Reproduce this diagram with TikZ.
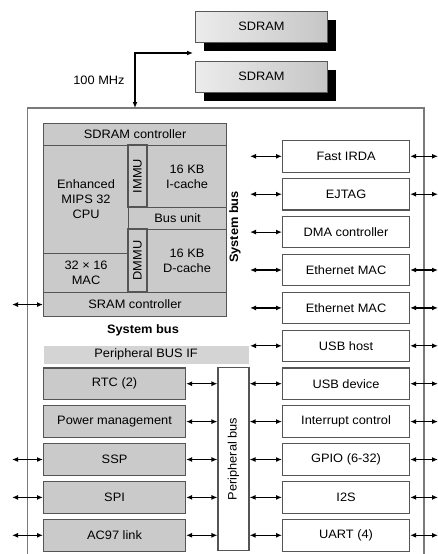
\documentclass[tikz,border=0pt]{standalone}
\usepackage{fontspec}
\setmainfont[FakeStretch=1.05]{Liberation Sans}
\usetikzlibrary{arrows.meta,shadows}
\definecolor{fillg}{HTML}{CACACA}
\definecolor{ifg}{HTML}{D4D4D4}
\definecolor{edgec}{HTML}{555555}
\definecolor{frameg}{HTML}{7A7A7A}
\begin{document}
\begin{tikzpicture}[x=1pt,y=-1pt,
  font=\fontsize{12.2}{15}\selectfont,
  blk/.style={draw=edgec, line width=1.1pt, anchor=north west, inner sep=0pt, align=center},
  gblk/.style={blk, fill=fillg},
  wblk/.style={blk, fill=white, minimum width=127pt, minimum height=31.5pt},
  pblk/.style={gblk, minimum width=142pt, minimum height=31.5pt},
  vblk/.style={draw=edgec, line width=1.1pt, inner sep=0pt, rotate=90, align=center},
  sdr/.style={draw=gray!70!black, line width=1pt, anchor=north west, minimum width=132pt, minimum height=30.5pt,
     left color=gray!15, right color=gray!45,
     drop shadow={shadow xshift=8.5pt, shadow yshift=-8.5pt, fill=black, opacity=1}},
  link/.style={{Latex[length=6pt,width=5pt]}-{Latex[length=6pt,width=5pt]}, line width=1.2pt, black},
]
\useasboundingbox (0,0) rectangle (438,554);
\clip (0,0) rectangle (438,554);

% SDRAM chips
\node[sdr] (sd1) at (195,11) {SDRAM};
\node[sdr] (sd2) at (195,61) {SDRAM};
\node (mhz) at (99,80) {100 MHz};

% outer frame
\draw[frameg, line width=1.2pt] (27.5,570) -- (27.5,108) -- (424,108) -- (424,570);
\coordinate (outtop) at (135,108);
\coordinate (sdrtip) at (193,53);
\draw[link] (outtop) |- (sdrtip);

% CPU block
\node[gblk, minimum width=183pt, minimum height=22pt] (sdc) at (43,123) {SDRAM controller};
\node[gblk, minimum width=85pt, minimum height=108pt] (cpu) at (43,145) {Enhanced\\MIPS 32\\CPU};
\node[gblk, minimum width=85pt, minimum height=39pt] (mac) at (43,253) {32 × 16\\MAC};
\node[vblk, fill=fillg, minimum width=62pt, minimum height=19pt] (immu) at (137.5,176) {IMMU};
\node[gblk, minimum width=79pt, minimum height=62pt] (ic) at (147,145) {16 KB\\I-cache};
\node[gblk, minimum width=98pt, minimum height=22pt] (bu) at (128,207) {Bus unit};
\node[vblk, fill=fillg, minimum width=63pt, minimum height=19pt] (dmmu) at (137.5,260.5) {DMMU};
\node[gblk, minimum width=79pt, minimum height=63pt] (dc) at (147,229) {16 KB\\D-cache};
\node[gblk, minimum width=183pt, minimum height=24pt] (src) at (43,292) {SRAM controller};

\node[font=\fontsize{12.2}{15}\selectfont\bfseries] (sbh) at (143,330) {System bus};
\node[rotate=90, font=\fontsize{12.2}{15}\selectfont\bfseries] (sbv) at (235,227) {System bus};

\node[blk, draw=none, fill=ifg, minimum width=205pt, minimum height=18pt] (pif) at (43,345) {Peripheral BUS IF};

% right column
\node[wblk] (irda) at (282,140) {Fast IRDA};
\node[wblk] (ejtag) at (282,177.9) {EJTAG};
\node[wblk] (dma) at (282,215.8) {DMA controller};
\node[wblk] (eth1) at (282,253.7) {Ethernet MAC};
\node[wblk] (eth2) at (282,291.6) {Ethernet MAC};
\node[wblk] (usbh) at (282,329.5) {USB host};
\node[wblk] (usbd) at (282,367.4) {USB device};
\node[wblk] (intc) at (282,405.3) {Interrupt control};
\node[wblk] (gpio) at (282,443.2) {GPIO (6-32)};
\node[wblk] (i2s) at (282,481.1) {I2S};
\node[wblk] (uart) at (282,519) {UART (4)};

% left peripherals
\node[pblk] (rtc) at (43,367.4) {RTC (2)};
\node[pblk] (pwr) at (43,405.3) {Power management};
\node[pblk] (ssp) at (43,443.2) {SSP};
\node[pblk] (spi) at (43,481.1) {SPI};
\node[pblk] (ac97) at (43,519) {AC97 link};

% rotated 90: its north side faces left, its south side faces right
\node[vblk, fill=white, minimum width=183pt, minimum height=31pt] (pbus) at (233.5,458.9) {Peripheral bus};

% reference x positions
\coordinate (xL) at (12,0);
\coordinate (xR) at (438,0);
\coordinate (xS) at (250,0);

% system bus links
\foreach \n in {irda,ejtag,dma,eth1,eth2,usbh}
  \draw[link] (xS |- \n.west) -- (\n.west);
% peripheral bus links to right column
\foreach \n in {usbd,intc,gpio,i2s,uart}
  \draw[link] (pbus.south |- \n.west) -- (\n.west);
% peripheral bus links to left column
\foreach \n in {rtc,pwr,ssp,spi,ac97}
  \draw[link] (\n.east) -- (pbus.north |- \n.east);
% external right
\foreach \n in {irda,ejtag,eth1,eth2,usbh,usbd,intc,gpio,i2s,uart}
  \draw[link] (\n.east) -- (xR |- \n.east);
% external left
\foreach \n in {src,ssp,spi,ac97}
  \draw[link] (xL |- \n.west) -- (\n.west);
\end{tikzpicture}
\end{document}
